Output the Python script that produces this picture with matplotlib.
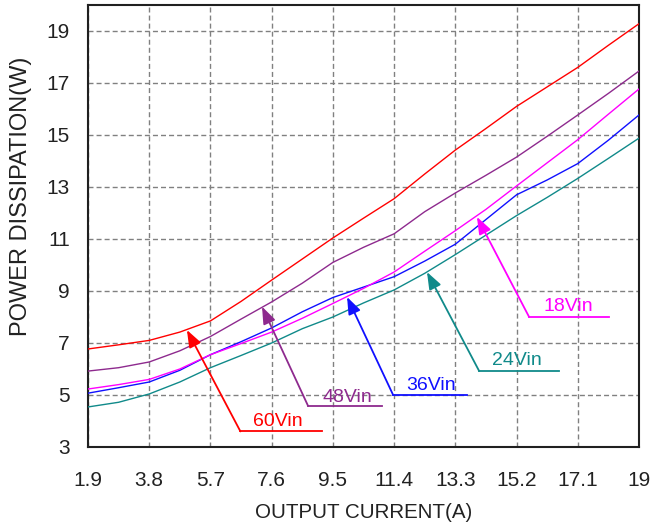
import matplotlib
matplotlib.use('Agg')
import matplotlib.pyplot as plt
from matplotlib import font_manager

# output current (A) where the curves were read
current = [1.9, 2.85, 3.8, 4.75, 5.7, 6.65, 7.6, 8.55, 9.5, 10.45,
           11.4, 12.35, 13.3, 14.25, 15.2, 16.15, 17.1, 18.05, 19]

# power dissipation (W) per input voltage
p_60vin = [6.77, 6.93, 7.1, 7.42, 7.85, 8.6, 9.42, 10.23, 11.04, 11.8,
           12.55, 13.5, 14.42, 15.25, 16.1, 16.85, 17.6, 18.45, 19.28]
p_48vin = [5.92, 6.05, 6.27, 6.7, 7.25, 7.92, 8.58, 9.3, 10.1, 10.68,
           11.2, 12.05, 12.77, 13.45, 14.15, 14.95, 15.77, 16.6, 17.46]
p_36vin = [5.07, 5.28, 5.5, 5.95, 6.55, 7.05, 7.58, 8.2, 8.75, 9.15,
           9.55, 10.15, 10.8, 11.75, 12.7, 13.27, 13.9, 14.8, 15.77]
p_18vin = [5.23, 5.4, 5.6, 6.0, 6.55, 6.98, 7.42, 7.95, 8.52, 9.1,
           9.73, 10.53, 11.32, 12.14, 13.04, 13.93, 14.82, 15.8, 16.77]
p_24vin = [4.54, 4.72, 5.04, 5.5, 6.05, 6.52, 7.0, 7.55, 8.0, 8.54,
           9.04, 9.68, 10.4, 11.15, 11.9, 12.6, 13.33, 14.1, 14.88]

series = [p_60vin, p_48vin, p_36vin, p_18vin, p_24vin]
colors = ['#ff0000', '#8e2a8e', '#1010ff', '#ff00ff', '#108a8a']

x_ticks = [1.9, 3.8, 5.7, 7.6, 9.5, 11.4, 13.3, 15.2, 17.1, 19]
x_tick_labels = ['1.9', '3.8', '5.7', '7.6', '9.5', '11.4', '13.3', '15.2', '17.1', '19']
y_ticks = [3, 5, 7, 9, 11, 13, 15, 17, 19]

# callouts: label, arrow tip, elbow, end of the flat leg, text spot
call_labels = ['60Vin', '48Vin', '36Vin', '24Vin', '18Vin']
call_colors = ['#ff0000', '#8e2a8e', '#1010ff', '#108a8a', '#ff00ff']
call_tips = [(4.97, 7.5), (7.3, 8.4), (9.94, 8.77), (12.42, 9.73), (13.97, 11.85)]
call_elbows = [(6.63, 3.6), (8.73, 4.58), (11.37, 5.0), (14.04, 5.92), (15.59, 8.0)]
call_ends = [9.15, 11.02, 13.66, 16.52, 18.07]
call_text = [(7.8, 3.8), (9.94, 4.73), (12.55, 5.19), (15.21, 6.15), (16.8, 8.23)]


def has_font(name):
    try:
        font_manager.findfont(name, fallback_to_default=False)
        return True
    except Exception:
        return False


base_font = 'Liberation Sans' if has_font('Liberation Sans') else 'DejaVu Sans'
plt.rcParams['font.family'] = [base_font, 'DejaVu Sans']

fig = plt.figure(figsize=(6.66, 5.30), dpi=100)
ax = fig.add_axes([88 / 666, 1 - 447 / 530, 551 / 666, 442 / 530])

for vals, c in zip(series, colors):
    ax.plot(current, vals, color=c, lw=1.0, zorder=3)

for lab, c, tip, elb, xend, tpos in zip(call_labels, call_colors, call_tips,
                                         call_elbows, call_ends, call_text):
    ax.plot([elb[0], xend], [elb[1], elb[1]], color=c, lw=1.3, zorder=4)
    ax.annotate('', xy=tip, xytext=elb,
                arrowprops=dict(arrowstyle='-|>,head_length=0.8,head_width=0.3',
                                color=c, lw=1.3, mutation_scale=13,
                                shrinkA=0, shrinkB=0), zorder=4)
    ax.text(tpos[0], tpos[1], lab, color=c, fontsize=14, ha='center',
            va='baseline', zorder=5)

ax.set_xlim(1.9, 19)
ax.set_ylim(3, 20)
ax.set_xticks(x_ticks)
ax.set_xticklabels(x_tick_labels)
ax.set_yticks(y_ticks)
ax.tick_params(axis='x', length=0, pad=17, labelsize=15, labelcolor='#222222')
ax.tick_params(axis='y', length=0, pad=13, labelsize=15, labelcolor='#222222')

ax.grid(True, color='#808080', lw=1.0, linestyle=(0, (3.6, 2.2)))
ax.set_axisbelow(True)
for sp in ax.spines.values():
    sp.set_color('#202020')
    sp.set_linewidth(1.5)

fig.text(363.5 / 666, 1 - 513 / 530, 'OUTPUT CURRENT(A)', ha='center', va='center',
         fontsize=14.8, color='#222222')
fig.text(21 / 666, 1 - 196 / 530, 'POWER DISSIPATION(W)', ha='center', va='center',
         rotation=90, fontsize=17, color='#222222')

fig.savefig('out.png', dpi=100)
